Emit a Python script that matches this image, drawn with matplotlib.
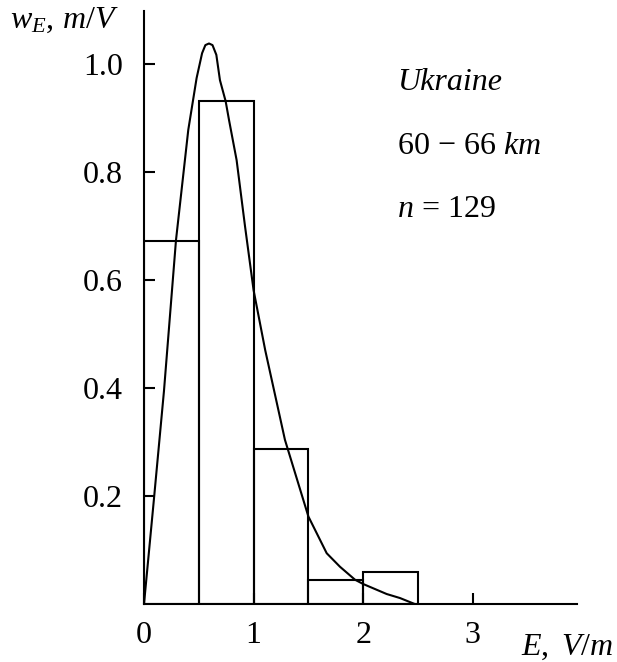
import matplotlib
matplotlib.use("Agg")
import matplotlib.pyplot as plt

serif = 'Liberation Serif'
plt.rcParams['font.family'] = [serif, 'DejaVu Serif']
plt.rcParams['mathtext.fontset'] = 'custom'
plt.rcParams['mathtext.rm'] = serif
plt.rcParams['mathtext.it'] = serif + ':italic'

# Histogram bins (E, V/m) and heights (w_E, m/V)
bin_left = [0.0, 0.5, 1.0, 1.5, 2.0]
bin_width = 0.5
bin_height = [0.672, 0.931, 0.287, 0.045, 0.059]

# Fitted distribution curve
curve_x = [0.0, 0.091, 0.182, 0.292, 0.404, 0.48, 0.53, 0.56, 0.593, 0.625,
           0.66, 0.693, 0.745, 0.776, 0.845, 0.922, 1.0, 1.106, 1.286,
           1.5, 1.667, 1.788, 1.925, 2.0, 2.214, 2.336, 2.47]
curve_y = [0.0, 0.195, 0.394, 0.674, 0.878, 0.974, 1.02, 1.035, 1.038, 1.035,
           1.017, 0.970, 0.931, 0.896, 0.822, 0.699, 0.581, 0.470, 0.304,
           0.162, 0.094, 0.069, 0.045, 0.037, 0.0185, 0.011, 0.0]

x_ticks = [0, 1, 2, 3]
y_ticks = [0.2, 0.4, 0.6, 0.8, 1.0]

fig = plt.figure(figsize=(6.17, 6.62), dpi=100)
ax = fig.add_axes([144/617, 1-604/662, 433/617, 593/662])

ax.bar(bin_left, bin_height, width=bin_width, align='edge', fill=False,
       edgecolor='black', linewidth=1.5)
ax.plot(curve_x, curve_y, color='black', linewidth=1.5)

ax.set_xlim(0, 433/109.6)
ax.set_ylim(0, 593/540)
ax.spines['top'].set_visible(False)
ax.spines['right'].set_visible(False)
for s in ('left', 'bottom'):
    ax.spines[s].set_linewidth(1.5)

ax.set_xticks(x_ticks)
ax.set_xticklabels([str(v) for v in x_ticks])
ax.set_yticks(y_ticks)
ax.set_yticklabels([f"{v:.1f}" for v in y_ticks])
ax.tick_params(axis='both', direction='in', length=8, width=1.5, labelsize=23)
ax.tick_params(axis='y', pad=15)
ax.tick_params(axis='x', pad=12)

ax.text(2.31, 0.952, 'Ukraine', fontsize=23, style='italic', va='baseline')
ax.text(2.31, 0.833, r'$60\,-\,66\ km$', fontsize=23, va='baseline')
ax.text(2.31, 0.717, r'$n\,=\,129$', fontsize=23, va='baseline')

fig.text(10/617, 1-28/662, r'$w_E,\,m/V$', fontsize=23, va='baseline', ha='left')
fig.text(521/617, 1-655/662, r'$E,\ V/m$', fontsize=23, va='baseline', ha='left')

fig.savefig('out.png', dpi=100)
